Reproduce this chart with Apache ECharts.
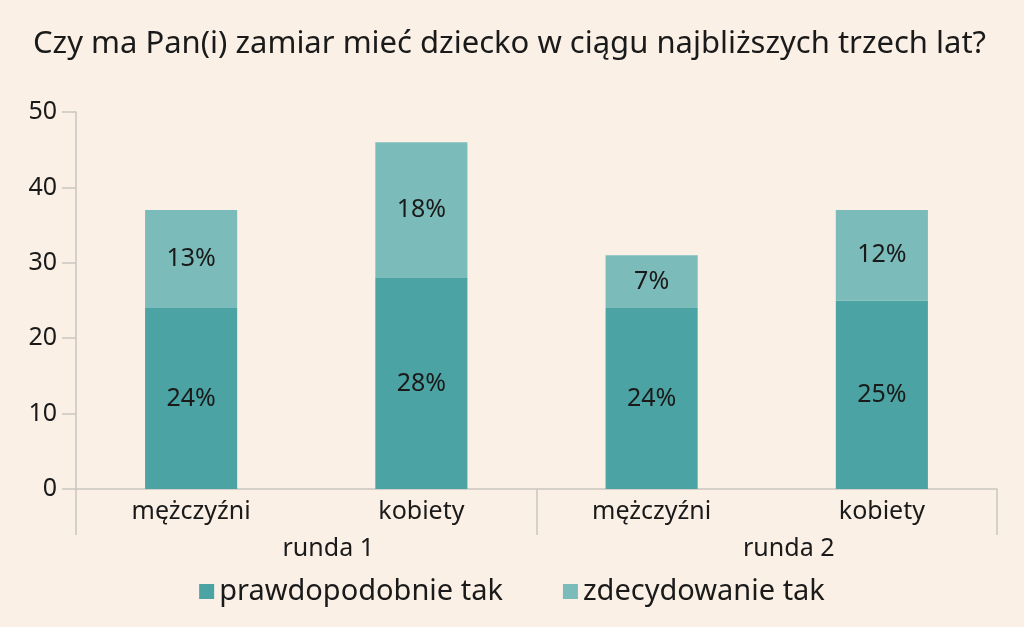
<!DOCTYPE html>
<html>
<head>
<meta charset="utf-8">
<script src="https://cdn.jsdelivr.net/npm/echarts@6/dist/echarts.min.js"></script>
<style>
  html, body { margin: 0; padding: 0; background: #faf0e6; }
  #chart { width: 1024px; height: 627px; }
</style>
</head>
<body>
<div id="chart"></div>
<script>
const categories = ['mężczyźni', 'kobiety', 'mężczyźni', 'kobiety']
const groups = ['runda 1', 'runda 2']
const prawdopodobnie = [24, 28, 24, 25]
const zdecydowanie = [13, 18, 7, 12]
const seriesNames = ['prawdopodobnie tak', 'zdecydowanie tak']

const font = '"Noto Sans", "Open Sans", sans-serif'
const axisGrey = '#c9c6c0'
const textColor = '#1a1a1a'

const chart = echarts.init(document.getElementById('chart'))

// 柱内百分比标签
const labelCfg = {
  show: true,
  position: 'inside',
  formatter: '{c}%',
  fontSize: 25,
  fontFamily: font,
  color: textColor,
  padding: [6, 0, 0, 0]
}

chart.setOption({
  backgroundColor: '#faf0e6',
  title: {
    text: 'Czy ma Pan(i) zamiar mieć dziecko w ciągu najbliższych trzech lat?',
    left: 28,
    top: 24,
    textStyle: {fontSize: 31, fontWeight: 'normal', fontFamily: font, color: textColor}
  },
  grid: {left: 76, right: 27, top: 112, bottom: 138},
  legend: {
    data: seriesNames,
    bottom: 16,
    left: 'center',
    icon: 'rect',
    itemWidth: 15,
    itemHeight: 15,
    itemGap: 60,
    textStyle: {fontSize: 29, fontFamily: font, color: textColor}
  },
  xAxis: [
    {
      type: 'category',
      data: categories,
      axisLine: {lineStyle: {color: axisGrey, width: 1.5}},
      axisTick: {show: false},
      axisLabel: {fontSize: 25, fontFamily: font, color: textColor, margin: 10}
    },
    {
      type: 'category',
      data: groups,
      position: 'bottom',
      axisLine: {show: false},
      axisTick: {show: true, length: 46, lineStyle: {color: axisGrey, width: 1.5}},
      axisLabel: {fontSize: 25, fontFamily: font, color: textColor, margin: 47, padding: [0, 0, 0, 44]}
    }
  ],
  yAxis: {
    type: 'value',
    min: 0,
    max: 50,
    interval: 10,
    axisLine: {show: true, lineStyle: {color: axisGrey, width: 1.5}},
    axisTick: {show: true, length: 14, lineStyle: {color: axisGrey, width: 1.5}},
    splitLine: {show: false},
    axisLabel: {fontSize: 25, fontFamily: font, color: textColor, margin: 19}
  },
  series: [
    {
      name: seriesNames[0],
      type: 'bar',
      stack: 'total',
      data: prawdopodobnie,
      barWidth: '40%',
      itemStyle: {color: '#4ca3a3'},
      label: labelCfg
    },
    {
      name: seriesNames[1],
      type: 'bar',
      stack: 'total',
      data: zdecydowanie,
      barWidth: '40%',
      itemStyle: {color: '#7bbcba'},
      label: labelCfg
    }
  ]
})
</script>
</body>
</html>
